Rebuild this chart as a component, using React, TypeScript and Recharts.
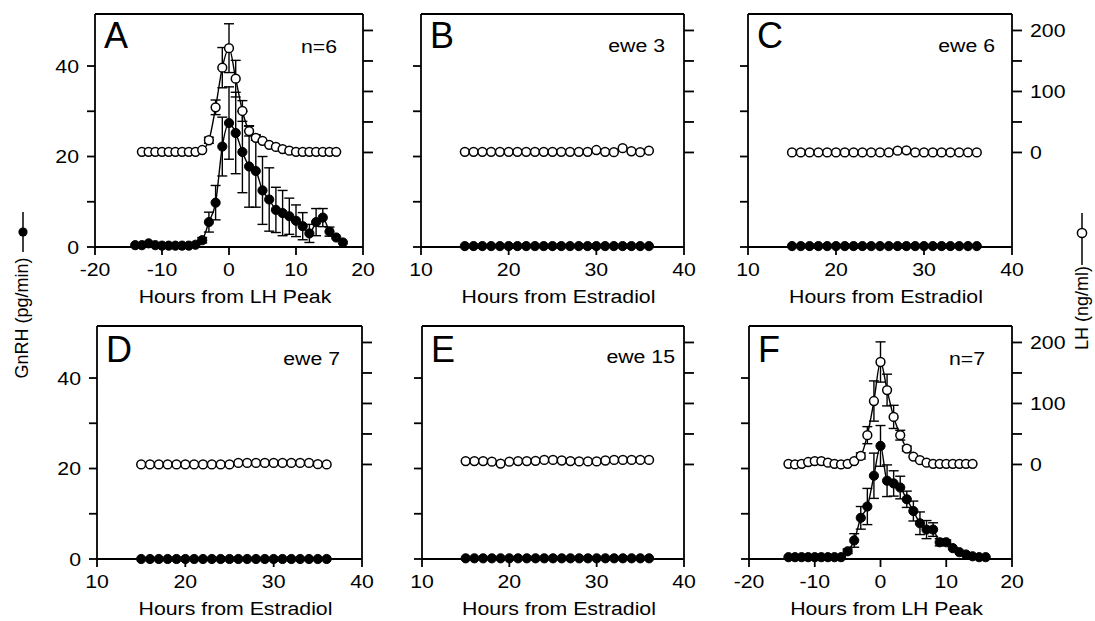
import React from "react";
import { ComposedChart, Line, XAxis, YAxis, ErrorBar, ReferenceLine } from "recharts";

const FONT = "'Liberation Sans', Arial, Helvetica, sans-serif";
const SX = 1.12; // the scan is a bit stretched sideways

// ticks
const peakTicks = [-20, -10, 0, 10, 20];
const e2Ticks = [10, 15, 20, 25, 30, 35, 40];
const leftTicks = [0, 10, 20, 30, 40];
const rightTicks = [0, 50, 100, 150, 200];

// A: mean of 6 ewes, hours from LH peak
const hoursA_gnrh = [-14, -13, -12, -11, -10, -9, -8, -7, -6, -5, -4, -3, -2, -1, 0, 1, 2, 3, 4, 5, 6, 7, 8, 9, 10, 11, 12, 13, 14, 15, 16, 17];
const gnrhA = [0.4, 0.4, 0.8, 0.4, 0.3, 0.3, 0.3, 0.3, 0.3, 0.5, 1.5, 5.5, 9.8, 22.2, 27.4, 25.2, 21, 17.8, 16.8, 12.5, 10.5, 8.2, 7.5, 6.8, 5.8, 4.6, 3, 5.5, 6.5, 3.4, 2.1, 1];
const gnrhA_sem = [0, 0, 0, 0, 0, 0, 0, 0, 0, 0, 0.6, 2.2, 3.8, 6.5, 8, 9, 9, 9, 8, 7.5, 7, 5, 5, 4, 3.5, 3, 2, 3, 2, 1, 0, 0];
const hoursA_lh = [-13, -12, -11, -10, -9, -8, -7, -6, -5, -4, -3, -2, -1, 0, 1, 2, 3, 4, 5, 6, 7, 8, 9, 10, 11, 12, 13, 14, 15, 16];
const lhA = [1, 1, 1, 1, 1, 1, 1, 1, 1, 4, 20, 74, 139, 171, 121, 68, 35, 24, 19, 12.5, 9, 5.5, 3, 1, 1, 1, 1, 1, 1, 1];
const lhA_sem = [0, 0, 0, 0, 0, 0, 0, 0, 0, 0, 5, 12, 33, 40, 30, 17, 8, 4, 0, 0, 0, 0, 0, 0, 0, 0, 0, 0, 0, 0];

// B-E: single ewes, hours from estradiol
const hoursE2 = [15, 16, 17, 18, 19, 20, 21, 22, 23, 24, 25, 26, 27, 28, 29, 30, 31, 32, 33, 34, 35, 36];
const gnrhB = [0.2, 0.2, 0.2, 0.2, 0.2, 0.2, 0.2, 0.2, 0.2, 0.2, 0.2, 0.2, 0.2, 0.2, 0.2, 0.2, 0.2, 0.2, 0.2, 0.2, 0.2, 0.2];
const lhB = [1, 1, 1, 1, 1, 1, 1, 1, 1, 1, 1, 1, 1, 1, 1, 4, 1, 0.5, 7, 2, 0.5, 3];
const gnrhC = [0.2, 0.2, 0.2, 0.2, 0.2, 0.2, 0.2, 0.2, 0.2, 0.2, 0.2, 0.2, 0.2, 0.2, 0.2, 0.2, 0.2, 0.2, 0.2, 0.2, 0.2, 0.2];
const lhC = [0, 0, 0, 0, 0, 0, 0, 0, 0, 0, 0, 0, 3, 3.5, 0, 0, 0, 0, 0, 0, 0, 0];
const gnrhD = [0, 0, 0, 0, 0, 0, 0, 0, 0, 0, 0, 0, 0, 0, 0, 0, 0, 0, 0, 0, 0, 0];
const lhD = [0, 0, 0, 0, 0, 0, 0, 0, 0, 0, 0, 2.5, 2.5, 2.5, 2.5, 2.5, 2.5, 2.5, 2.5, 2.5, 0.5, 0];
const gnrhE = [0.15, 0.15, 0.15, 0.15, 0.15, 0.15, 0.15, 0.15, 0.15, 0.15, 0.15, 0.15, 0.15, 0.15, 0.15, 0.15, 0.15, 0.15, 0.15, 0.15, 0.15, 0.15];
const lhE = [5.5, 5.5, 5.5, 4.5, 1.5, 4.5, 5.5, 5.5, 6, 7.5, 7.5, 6.5, 5.5, 5, 5, 5, 6.5, 7.5, 7.5, 7.5, 7.5, 7.5];

// F: mean of 7 ewes, hours from LH peak
const hoursF_gnrh = [-14, -13, -12, -11, -10, -9, -8, -7, -6, -5, -4, -3, -2, -1, 0, 1, 2, 3, 4, 5, 6, 7, 8, 9, 10, 11, 12, 13, 14, 15, 16];
const gnrhF = [0.4, 0.4, 0.4, 0.4, 0.4, 0.4, 0.4, 0.4, 0.4, 1.7, 4.1, 9.1, 11.6, 18.4, 25, 17.3, 16.7, 15.8, 13.2, 10.6, 7.9, 6.5, 6.5, 3.7, 3.7, 2.4, 1.5, 1, 0.6, 0.4, 0.4];
const gnrhF_sem = [0, 0, 0, 0, 0, 0, 0, 0, 0, 0.5, 1.5, 2.5, 4, 5, 4.5, 3.5, 2.8, 2.5, 1.8, 2.2, 2.5, 2, 1.5, 0.8, 0.5, 0, 0, 0, 0, 0, 0];
const hoursF_lh = [-14, -13, -12, -11, -10, -9, -8, -7, -6, -5, -4, -3, -2, -1, 0, 1, 2, 3, 4, 5, 6, 7, 8, 9, 10, 11, 12, 13, 14];
const lhF = [1, 0, 1, 4, 5.5, 5.5, 3, 1, 0, 1, 5.5, 14, 48, 104, 168, 122, 78, 48, 26, 13, 7, 3, 1, 1, 1, 1, 1, 1, 1];
const lhF_sem = [0, 0, 0, 0, 0, 0, 0, 0, 0, 0, 0, 5, 14, 33, 33, 26, 19, 8, 4, 0, 0, 0, 0, 0, 0, 0, 0, 0, 0];

type Pt = { x: number; y: number; e: number };
const toPts = (xs: number[], ys: number[], es?: number[]): Pt[] =>
  xs.map((x, i) => ({ x, y: ys[i], e: es ? es[i] : 0 }));

const LEFT_MAX = 51.5;
const RIGHT_DOMAIN: [number, number] = [-155, 227];
const PLOT_H = 233;

const panels = [
  { letter: "A", note: "n=6", noteX: 337, noteY: 53, left: 95, top: 14, w: 268, xDomain: [-20, 20], xTicks: peakTicks, title: "Hours from LH Peak", showL: true, showR: false, gnrh: toPts(hoursA_gnrh, gnrhA, gnrhA_sem), lh: toPts(hoursA_lh, lhA, lhA_sem) },
  { letter: "B", note: "ewe 3", noteX: 665, noteY: 52, left: 421, top: 14, w: 263, xDomain: [10, 40], xTicks: e2Ticks, title: "Hours from Estradiol", showL: false, showR: false, gnrh: toPts(hoursE2, gnrhB), lh: toPts(hoursE2, lhB) },
  { letter: "C", note: "ewe 6", noteX: 995, noteY: 52, left: 748, top: 14, w: 264, xDomain: [10, 40], xTicks: e2Ticks, title: "Hours from Estradiol", showL: false, showR: true, gnrh: toPts(hoursE2, gnrhC), lh: toPts(hoursE2, lhC) },
  { letter: "D", note: "ewe 7", noteX: 340, noteY: 365, left: 97, top: 326, w: 265, xDomain: [10, 40], xTicks: e2Ticks, title: "Hours from Estradiol", showL: true, showR: false, gnrh: toPts(hoursE2, gnrhD), lh: toPts(hoursE2, lhD) },
  { letter: "E", note: "ewe 15", noteX: 675, noteY: 363, left: 422, top: 326, w: 262, xDomain: [10, 40], xTicks: e2Ticks, title: "Hours from Estradiol", showL: false, showR: false, gnrh: toPts(hoursE2, gnrhE), lh: toPts(hoursE2, lhE) },
  { letter: "F", note: "n=7", noteX: 985, noteY: 365, left: 749, top: 326, w: 263, xDomain: [-20, 20], xTicks: peakTicks, title: "Hours from LH Peak", showL: false, showR: true, gnrh: toPts(hoursF_gnrh, gnrhF, gnrhF_sem), lh: toPts(hoursF_lh, lhF, lhF_sem) },
];

function XTick(props: any) {
  const { x, y, payload } = props;
  const v = payload.value as number;
  const major = v % 10 === 0;
  const ay = y - 16;
  return (
    <g>
      <line x1={x} x2={x} y1={ay} y2={ay + (major ? 8 : 4)} stroke="#000" strokeWidth={1.8} />
      {major && (
        <text transform={`translate(${x},${ay + 16}) scale(${SX},1)`} textAnchor="middle" dy="0.71em" fontSize={19} fontFamily={FONT} fill="#000">
          {v}
        </text>
      )}
    </g>
  );
}

function YTick(props: any) {
  const { x, y, payload, show, step, anchor } = props;
  const v = payload.value as number;
  if (!show || v % step !== 0) return <g />;
  return (
    <text transform={`translate(${x},${y}) scale(${SX},1)`} textAnchor={anchor} dy="0.36em" fontSize={19} fontFamily={FONT} fill="#000">
      {v}
    </text>
  );
}

function Panel({ p }: { p: (typeof panels)[number] }) {
  return (
    <div style={{ position: "absolute", left: p.left - 60, top: p.top - 10 }}>
      <ComposedChart width={p.w + 120} height={PLOT_H + 70} margin={{ top: 10, right: 0, bottom: 0, left: 0 }}>
        <XAxis type="number" dataKey="x" domain={p.xDomain} ticks={p.xTicks} interval={0} height={60}
          stroke="#000" strokeWidth={1.8} tickLine={false} tickSize={8} tickMargin={8} tick={<XTick />} />
        <YAxis yAxisId="l" domain={[0, LEFT_MAX]} ticks={leftTicks} interval={0} width={60}
          stroke="#000" strokeWidth={1.8} tickSize={8} tickMargin={8} tick={<YTick show={p.showL} step={20} anchor="end" />} />
        <YAxis yAxisId="r" orientation="right" domain={RIGHT_DOMAIN} ticks={rightTicks} interval={0} width={60}
          stroke="#000" strokeWidth={1.8} tickSize={10} tickMargin={8} tick={<YTick show={p.showR} step={100} anchor="start" />} />
        <ReferenceLine yAxisId="l" y={LEFT_MAX} stroke="#000" strokeWidth={1.8} />
        <Line yAxisId="l" data={p.gnrh} dataKey="y" type="monotone" stroke="#000" strokeWidth={1.4}
          dot={{ r: 4.6, fill: "#000", stroke: "#000", strokeWidth: 1 }} activeDot={false} isAnimationActive={false}>
          <ErrorBar dataKey="e" width={5} stroke="#000" strokeWidth={1.4} direction="y" isAnimationActive={false} />
        </Line>
        <Line yAxisId="r" data={p.lh} dataKey="y" type="monotone" stroke="#000" strokeWidth={1.4}
          dot={{ r: 4.4, fill: "#fff", stroke: "#000", strokeWidth: 1.5 }} activeDot={false} isAnimationActive={false}>
          <ErrorBar dataKey="e" width={5} stroke="#000" strokeWidth={1.4} direction="y" isAnimationActive={false} />
        </Line>
      </ComposedChart>
    </div>
  );
}

export default function App() {
  return (
    <div style={{ position: "absolute", left: 0, top: 0, width: 1095, height: 621, background: "#fff", fontFamily: FONT }}>
      {panels.map((p) => (
        <Panel key={p.letter} p={p} />
      ))}
      <svg width={1095} height={621} style={{ position: "absolute", left: 0, top: 0, pointerEvents: "none" }}>
        {panels.map((p) => (
          <g key={p.letter} fontFamily={FONT} fill="#000">
            <text x={p.left + 9} y={p.top + (p.top < 100 ? 34 : 36)} fontSize={36}>{p.letter}</text>
            <text transform={`translate(${p.noteX},${p.noteY}) scale(${SX},1)`} textAnchor="end" fontSize={19}>{p.note}</text>
            <text transform={`translate(${p.left + p.w / 2 + 6},${p.top + PLOT_H + 56}) scale(${SX},1)`} textAnchor="middle" fontSize={19}>{p.title}</text>
          </g>
        ))}
        {/* left axis label with filled symbol */}
        <line x1={23} x2={23} y1={212} y2={252} stroke="#000" strokeWidth={1.5} />
        <circle cx={23} cy={232} r={4.6} fill="#000" />
        <text transform="translate(28,318) rotate(-90)" textAnchor="middle" fontSize={18} fontFamily={FONT} fill="#000">GnRH (pg/min)</text>
        {/* right axis label with open symbol */}
        <line x1={1082} x2={1082} y1={213} y2={265} stroke="#000" strokeWidth={1.5} />
        <circle cx={1082} cy={233} r={4.6} fill="#fff" stroke="#000" strokeWidth={1.5} />
        <text transform="translate(1088,308) rotate(-90)" textAnchor="middle" fontSize={18} fontFamily={FONT} fill="#000">LH (ng/ml)</text>
      </svg>
    </div>
  );
}
